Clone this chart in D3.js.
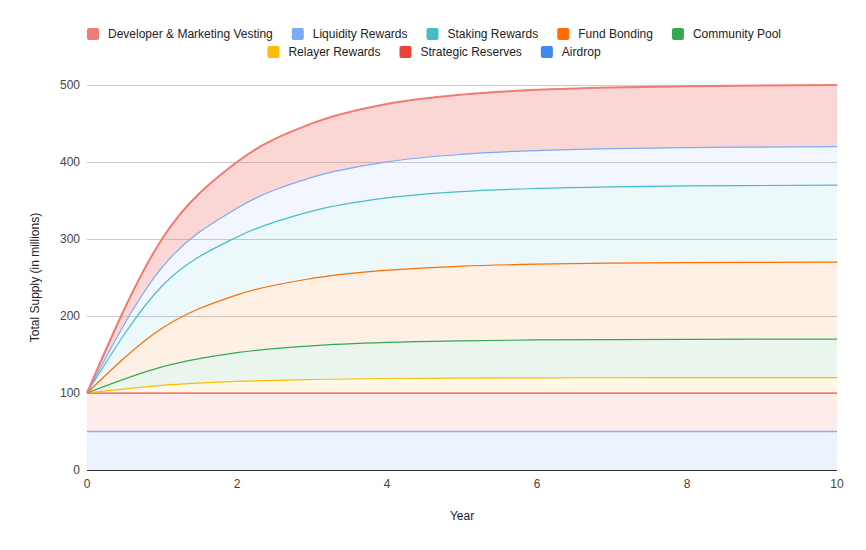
<!DOCTYPE html>
<html>
<head>
<meta charset="utf-8">
<script src="https://cdn.jsdelivr.net/npm/d3@7"></script>
<style>
  body { margin: 0; background: #fff; }
  svg { display: block; font-family: Arial, "Liberation Sans", sans-serif; }
</style>
</head>
<body>
<svg id="chart" width="866" height="550"></svg>
<script>
// ---- Data (values in millions) ----
const years = [0, 1, 2, 3, 4, 5, 6, 7, 8, 9, 10];
const airdrop = [50, 50, 50, 50, 50, 50, 50, 50, 50, 50, 50];
const strategicReserves = [50, 50, 50, 50, 50, 50, 50, 50, 50, 50, 50];
const relayerRewards = [0, 10, 15, 17.5, 18.8, 19.4, 19.7, 19.8, 19.9, 20, 20];
const communityPool = [0, 24, 37.5, 43.8, 46.9, 48.4, 49.2, 49.6, 49.8, 49.9, 50];
const fundBonding = [0, 50, 75, 87.5, 93.8, 96.9, 98.4, 99.2, 99.6, 99.8, 100];
const stakingRewards = [0, 55, 75, 87.5, 93.8, 96.9, 98.4, 99.2, 99.6, 99.8, 100];
const liquidityRewards = [0, 24, 37.5, 43.8, 46.9, 48.4, 49.2, 49.6, 49.8, 49.9, 50];
const devMarketingVesting = [0, 37, 60, 70, 75, 77.5, 78.8, 79.4, 79.7, 79.8, 80];

const seriesNames = ["Airdrop", "Strategic Reserves", "Relayer Rewards", "Community Pool",
  "Fund Bonding", "Staking Rewards", "Liquidity Rewards", "Developer & Marketing Vesting"];
const seriesValues = [airdrop, strategicReserves, relayerRewards, communityPool,
  fundBonding, stakingRewards, liquidityRewards, devMarketingVesting];
const seriesColors = ["#4285f4", "#ea4335", "#fbbc04", "#34a853",
  "#ff6d01", "#46bdc6", "#7baaf7", "#f07b72"];
const yTicks = [0, 100, 200, 300, 400, 500];
const xTicks = [0, 2, 4, 6, 8, 10];
const legendRows = [
  ["Developer & Marketing Vesting", "Liquidity Rewards", "Staking Rewards", "Fund Bonding", "Community Pool"],
  ["Relayer Rewards", "Strategic Reserves", "Airdrop"]
];

// ---- Build table ----
const table = years.map((yr, i) => {
  const row = { year: yr };
  seriesNames.forEach((n, k) => row[n] = seriesValues[k][i]);
  return row;
});
const stacked = d3.stack().keys(seriesNames)(table);

const svg = d3.select("#chart");
const W = 866, H = 550;
const m = { left: 87, right: 29, top: 85, bottom: 80 };
const x = d3.scaleLinear().domain([0, 10]).range([m.left, W - m.right]);
const y = d3.scaleLinear().domain([0, 500]).range([H - m.bottom, m.top]);
const curve = d3.curveMonotoneX;

// gridlines
svg.append("g").selectAll("line").data(yTicks.filter(d => d > 0)).join("line")
  .attr("x1", x(0)).attr("x2", x(10))
  .attr("y1", d => Math.round(y(d)) + 0.5).attr("y2", d => Math.round(y(d)) + 0.5)
  .attr("stroke", "#cccccc").attr("stroke-width", 1);

// areas
const area = d3.area().curve(curve)
  .x(d => x(d.data.year)).y0(d => y(d[0])).y1(d => y(d[1]));
svg.append("g").selectAll("path").data(stacked).join("path")
  .attr("d", area)
  .attr("fill", (d, i) => seriesColors[i])
  .attr("fill-opacity", (d, i) => i === 7 ? 0.3 : 0.1)
  .attr("stroke", "none");

// lines
const line = d3.line().curve(curve).x(d => x(d.data.year)).y(d => y(d[1]));
svg.append("g").selectAll("path").data(stacked).join("path")
  .attr("d", line)
  .attr("fill", "none")
  .attr("stroke", (d, i) => seriesColors[i])
  .attr("stroke-opacity", (d, i) => i === 0 ? 0.6 : 1)
  .attr("stroke-width", (d, i) => i === 7 ? 2 : (i === 0 ? 1.6 : 1.2));

// baseline
svg.append("line")
  .attr("x1", x(0)).attr("x2", x(10))
  .attr("y1", Math.round(y(0)) + 0.5).attr("y2", Math.round(y(0)) + 0.5)
  .attr("stroke", "#333333").attr("stroke-width", 1);

// y tick labels
svg.append("g").selectAll("text").data(yTicks).join("text")
  .attr("x", m.left - 7).attr("y", d => y(d) + 4)
  .attr("text-anchor", "end").attr("font-size", 12).attr("fill", "#444")
  .text(d => d);

// x tick labels
svg.append("g").selectAll("text").data(xTicks).join("text")
  .attr("x", d => x(d)).attr("y", y(0) + 18)
  .attr("text-anchor", "middle").attr("font-size", 12).attr("fill", "#444")
  .text(d => d);

// axis titles
svg.append("text").attr("x", (x(0) + x(10)) / 2).attr("y", 520)
  .attr("text-anchor", "middle").attr("font-size", 12).attr("fill", "#222").text("Year");
svg.append("text")
  .attr("transform", `translate(39,${(y(0) + y(500)) / 2}) rotate(-90)`)
  .attr("text-anchor", "middle").attr("font-size", 12).attr("fill", "#222")
  .text("Total Supply (in millions)");

// legend
const colorOf = n => seriesColors[seriesNames.indexOf(n)];
const rowY = [34, 52];
legendRows.forEach((row, r) => {
  const g = svg.append("g");
  let cx = 0;
  const gap = 19;
  row.forEach((name, k) => {
    const it = g.append("g").attr("transform", `translate(${cx},0)`);
    it.append("rect").attr("x", 0).attr("y", rowY[r] - 6).attr("width", 12).attr("height", 12)
      .attr("rx", 2).attr("fill", colorOf(name));
    const t = it.append("text").attr("x", 21).attr("y", rowY[r] + 4.3)
      .attr("font-size", 12).attr("fill", "#222").text(name);
    cx += 21 + t.node().getComputedTextLength() + gap;
  });
  const total = cx - gap;
  g.attr("transform", `translate(${(W - total) / 2 + 1},0)`);
});
</script>
</body>
</html>
